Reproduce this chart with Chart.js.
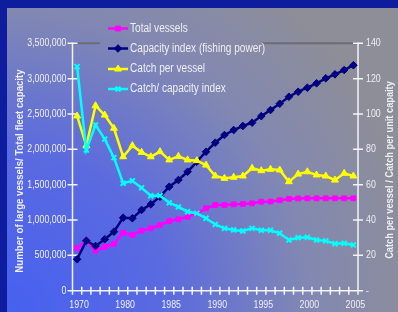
<!DOCTYPE html>
<html>
<head>
<meta charset="utf-8">
<script src="https://cdn.jsdelivr.net/npm/chart.js@4"></script>
<style>
  html, body { margin: 0; padding: 0; background: #0e1c9e; }
  canvas { display: block; }
</style>
</head>
<body>
<canvas id="chart" width="398" height="312"></canvas>
<script>
const years = ['1970', '1972', '1974', '1976', '1978', '1980', '1981', '1982', '1983', '1984',
  '1985', '1986', '1987', '1988', '1989', '1990', '1991', '1992', '1993', '1994',
  '1995', '1996', '1997', '1998', '1999', '2000', '2001', '2002', '2003', '2004', '2005']

const totalVessels = [600000, 707000, 566000, 622000, 661000, 820000, 788000, 849000, 883000, 930000,
  985000, 1010000, 1047000, 1095000, 1166000, 1212000, 1212000, 1222000, 1227000, 1236000,
  1259000, 1262000, 1280000, 1300000, 1305000, 1307000, 1307000, 1307000, 1307000, 1307000, 1307000]

const capacityIndex = [444000, 707000, 632000, 727000, 835000, 1033000, 1024000, 1142000, 1222000, 1330000,
  1471000, 1566000, 1683000, 1825000, 1966000, 2094000, 2203000, 2273000, 2330000, 2377000,
  2470000, 2556000, 2645000, 2744000, 2815000, 2872000, 2934000, 3005000, 3061000, 3122000, 3190000]

const catchPerVessel = [98.9, 82.1, 104.7, 99.4, 91.9, 75.8, 82.1, 78.3, 75.8, 78.7,
  74.0, 76.0, 74.0, 73.6, 71.1, 64.9, 63.6, 64.2, 64.9, 69.3,
  67.9, 68.7, 68.3, 61.7, 66.0, 67.3, 65.5, 64.9, 62.6, 66.4, 64.9]

const catchPerCapacity = [126.8, 79.6, 93.8, 85.8, 75.3, 60.8, 62.2, 58.2, 53.7, 53.9,
  49.8, 47.4, 44.7, 43.8, 41.0, 37.5, 35.3, 34.4, 33.8, 35.3,
  34.2, 34.2, 32.5, 28.7, 30.0, 30.2, 28.7, 28.2, 26.6, 26.8, 25.9]

const leftTitle = 'Number of large vessels/ Total fleet capacity'
const rightTitle = 'Catch per vessel / Catch per unit capaity'

const FONT = '"Liberation Sans", Arial, sans-serif'
const TEXT = '#eeeef4'
const NARROW = 0.84

const series = [
  { label: 'Total vessels', data: totalVessels, color: '#ff00ff', style: 'rect', radius: 3.4, axis: 'y' },
  { label: 'Capacity index (fishing power)', data: capacityIndex, color: '#000080', style: 'rectRot', radius: 3.8, axis: 'y' },
  { label: 'Catch per vessel', data: catchPerVessel, color: '#ffff00', style: 'triangle', radius: 4, axis: 'y1' },
  { label: 'Catch/ capacity index', data: catchPerCapacity, color: '#00ffff', style: 'crossRot', radius: 3.5, axis: 'y1' }
]

// narrow text: the source uses a condensed face we don't have
function narrowText(ctx, text, x, y, font, align, rot) {
  ctx.save()
  ctx.fillStyle = TEXT
  ctx.font = font
  ctx.textAlign = align
  ctx.textBaseline = 'middle'
  ctx.translate(x, y)
  if (rot) ctx.rotate(rot)
  ctx.scale(NARROW, 1)
  ctx.fillText(text, 0, 0)
  ctx.restore()
}

const background = {
  id: 'background',
  beforeDraw(chart) {
    const ctx = chart.ctx
    ctx.save()
    ctx.fillStyle = '#0e1c9e'
    ctx.fillRect(0, 0, chart.width, chart.height)
    const g = ctx.createRadialGradient(7, 312, 0, 7, 312, 420)
    g.addColorStop(0, '#4660f0')
    g.addColorStop(0.38, '#5a6ae0')
    g.addColorStop(0.72, '#8288b2')
    g.addColorStop(1, '#8e8e98')
    ctx.fillStyle = g
    ctx.fillRect(7, 8, chart.width - 7, chart.height - 8)
    ctx.restore()
  }
}

const axes = {
  id: 'axes',
  beforeDatasetsDraw(chart) {
    const ctx = chart.ctx
    const area = chart.chartArea
    const x = chart.scales.x
    const y = chart.scales.y
    const y1 = chart.scales.y1
    ctx.save()

    // top border, hidden behind the legend
    ctx.strokeStyle = '#6c6c74'
    ctx.lineWidth = 2
    ctx.beginPath()
    ctx.moveTo(area.left, area.top)
    ctx.lineTo(100, area.top)
    ctx.moveTo(262, area.top)
    ctx.lineTo(area.right, area.top)
    ctx.stroke()

    ctx.strokeStyle = '#f4f4f8'
    ctx.lineWidth = 1.5
    ctx.beginPath()
    ctx.moveTo(area.left, area.top - 1)
    ctx.lineTo(area.left, area.bottom)
    ctx.lineTo(area.right, area.bottom)
    ctx.moveTo(area.right, area.top - 1)
    ctx.lineTo(area.right, area.bottom)

    y.ticks.forEach(t => {
      const py = y.getPixelForValue(t.value)
      ctx.moveTo(area.left - 5, py)
      ctx.lineTo(area.left + 5, py)
    })
    y1.ticks.forEach(t => {
      const py = y1.getPixelForValue(t.value)
      ctx.moveTo(area.right - 5, py)
      ctx.lineTo(area.right + 5, py)
    })
    const half = (x.getPixelForValue(1) - x.getPixelForValue(0)) / 2
    for (let i = 0; i <= years.length; i++) {
      const px = x.getPixelForValue(i) - half
      ctx.moveTo(px, area.bottom - 4)
      ctx.lineTo(px, area.bottom + 4)
    }
    ctx.stroke()
    ctx.restore()
  },
  afterDraw(chart) {
    const ctx = chart.ctx
    const area = chart.chartArea
    const x = chart.scales.x
    const y = chart.scales.y
    const y1 = chart.scales.y1
    const tickFont = '10.5px ' + FONT

    y.ticks.forEach(t => {
      narrowText(ctx, t.value.toLocaleString('en-US'), area.left - 6, y.getPixelForValue(t.value), tickFont, 'right')
    })
    y1.ticks.forEach(t => {
      narrowText(ctx, t.value === 0 ? '-' : String(t.value), area.right + 8, y1.getPixelForValue(t.value), tickFont, 'left')
    })
    years.forEach((yr, i) => {
      if (i % 5 === 0) narrowText(ctx, yr, x.getPixelForValue(i) + 2, 305.5, tickFont, 'center')
    })

    narrowText(ctx, leftTitle, 20, 171, 'bold 11.5px ' + FONT, 'center', -Math.PI / 2)
    narrowText(ctx, rightTitle, 390, 170, 'bold 11px ' + FONT, 'center', -Math.PI / 2)
  }
}

const legendBox = {
  id: 'legendBox',
  afterDraw(chart) {
    const ctx = chart.ctx
    const rows = [28.5, 48.5, 69, 89]
    series.forEach((s, i) => {
      const yy = rows[i]
      ctx.save()
      ctx.strokeStyle = s.color
      ctx.fillStyle = s.color
      ctx.lineWidth = 2.5
      ctx.beginPath()
      ctx.moveTo(108, yy)
      ctx.lineTo(128, yy)
      ctx.stroke()
      ctx.lineWidth = s.style === 'crossRot' ? 2 : 1
      Chart.helpers.drawPoint(ctx, { pointStyle: s.style, radius: s.radius, rotation: 0, borderWidth: ctx.lineWidth }, 118, yy)
      ctx.restore()
      narrowText(ctx, s.label, 130, yy, '12px ' + FONT, 'left')
    })
  }
}

new Chart(document.getElementById('chart'), {
  type: 'line',
  data: {
    labels: years,
    datasets: series.map((s, i) => ({
      label: s.label,
      data: s.data,
      yAxisID: s.axis,
      borderColor: s.color,
      backgroundColor: s.color,
      borderWidth: 2.5,
      pointStyle: s.style,
      pointRadius: s.radius,
      pointBorderWidth: s.style === 'crossRot' ? 2 : 1,
      tension: 0,
      order: 4 - i
    }))
  },
  options: {
    responsive: false,
    animation: false,
    devicePixelRatio: 1,
    layout: { padding: { top: 43.3, left: 0, right: 0, bottom: 0 } },
    plugins: { legend: { display: false }, tooltip: { enabled: false } },
    scales: {
      x: {
        type: 'category',
        offset: true,
        grid: { display: false, drawTicks: false },
        border: { display: false },
        afterFit: s => { s.height = 21.3 },
        ticks: { display: false, autoSkip: false, maxRotation: 0 }
      },
      y: {
        position: 'left',
        min: 0,
        max: 3500000,
        grid: { display: false, drawTicks: false },
        border: { display: false },
        afterFit: s => { s.width = 72.5 },
        ticks: { display: false, stepSize: 500000 }
      },
      y1: {
        position: 'right',
        min: 0,
        max: 140,
        grid: { display: false, drawTicks: false },
        border: { display: false },
        afterFit: s => { s.width = 40 },
        ticks: { display: false, stepSize: 20 }
      }
    }
  },
  plugins: [background, axes, legendBox]
})
</script>
</body>
</html>
